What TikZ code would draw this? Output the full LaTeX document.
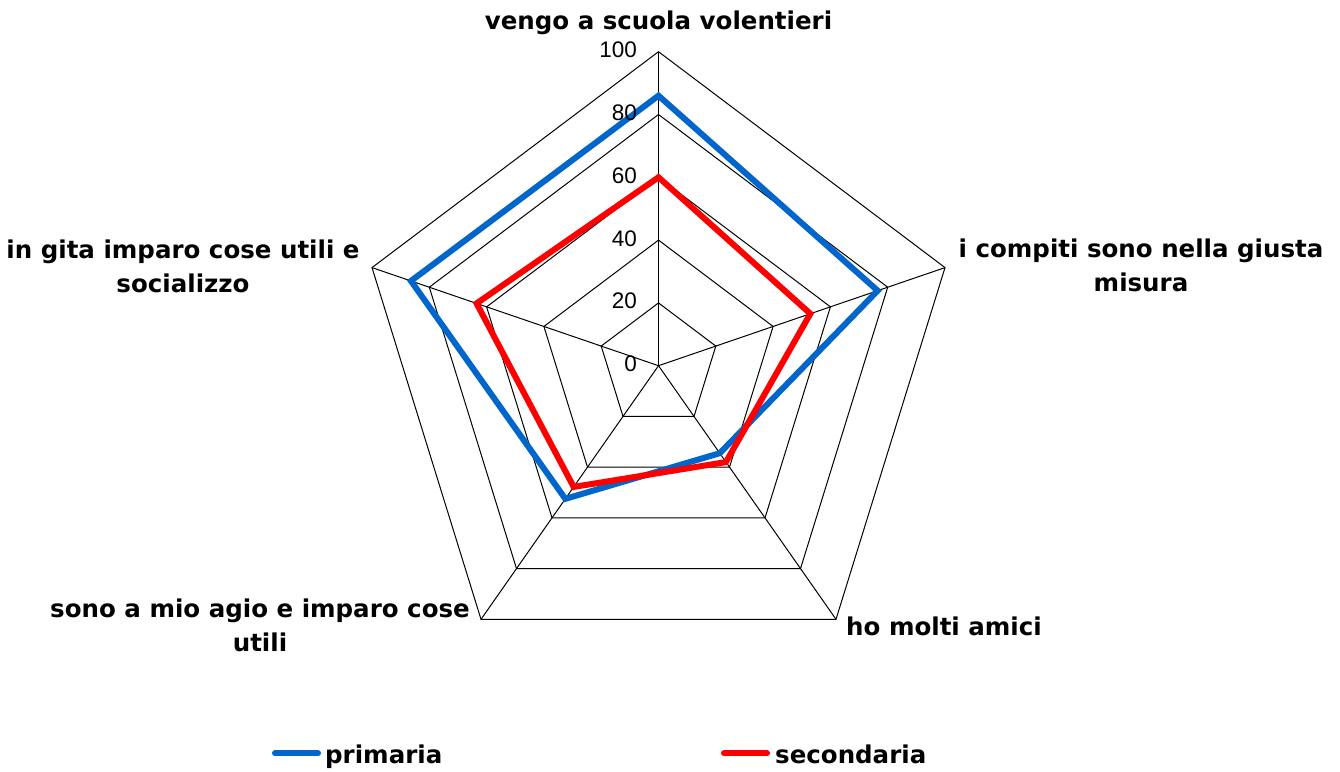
\documentclass[tikz,border=0pt]{standalone}
\usepackage{fontspec}
\setmainfont{DejaVu Sans}
\newfontfamily\tickfont{Liberation Sans}
\usetikzlibrary{calc}
\definecolor{prim}{RGB}{0,102,204}
\definecolor{seco}{RGB}{255,0,0}
\begin{document}
\begin{tikzpicture}[x=1pt,y=-1pt,
  gridline/.style={black, line width=1pt},
  series/.style={line width=6pt, line join=miter, miter limit=10},
  axislabel/.style={font=\fontsize{24.5}{34}\selectfont\bfseries, align=center, inner sep=0pt, anchor=base},
  ticklabel/.style={font=\tickfont\fontsize{22.5}{26}\selectfont, inner sep=0pt, anchor=east},
  legendline/.style={line width=6pt, line cap=round},
  legendtext/.style={font=\fontsize{24.5}{30}\selectfont\bfseries, inner sep=0pt, anchor=base west}]
\useasboundingbox[fill=white] (0,0) rectangle (1340,771);
% chart geometry
\coordinate (c) at (658.5,365.7);
\coordinate (v1) at (658.5,51.7);
\coordinate (v2) at (945,267.6);
\coordinate (v3) at (836,619.3);
\coordinate (v4) at (481,619.3);
\coordinate (v5) at (372,267.6);
% grid
\foreach \r in {0.2,0.4,0.6,0.8,1.0}
  \draw[gridline] ($(c)!\r!(v1)$) -- ($(c)!\r!(v2)$) -- ($(c)!\r!(v3)$) -- ($(c)!\r!(v4)$) -- ($(c)!\r!(v5)$) -- cycle;
\foreach \i in {1,...,5}
  \draw[gridline] (c) -- (v\i);
% series
\draw[series, prim] ($(c)!0.86!(v1)$) -- ($(c)!0.765!(v2)$) -- ($(c)!0.345!(v3)$) -- ($(c)!0.525!(v4)$) -- ($(c)!0.864!(v5)$) -- cycle;
\draw[series, seco] ($(c)!0.60!(v1)$) -- ($(c)!0.53!(v2)$) -- ($(c)!0.38!(v3)$) -- ($(c)!0.478!(v4)$) -- ($(c)!0.635!(v5)$) -- cycle;
% tick labels
\foreach \v in {0,20,40,60,80,100}
  \node[ticklabel] (t\v) at (637,{365.7-3.14*\v-1.7}) {\v};
% axis labels (base = baseline of last line)
\node[axislabel] (l1) at (658.5,29.3) {vengo a scuola volentieri};
\node[axislabel] (l2) at (1141,291.7) {i compiti sono nella giusta\\misura};
\node[axislabel] (l3) at (944,635) {ho molti amici};
\node[axislabel] (l4) at (260,651.3) {sono a mio agio e imparo cose\\utili};
\node[axislabel] (l5) at (183,292.3) {in gita imparo cose utili e\\socializzo};
% legend
\coordinate (pa) at (275,753.3);
\coordinate (pb) at (318,753.3);
\coordinate (sa) at (724,753.3);
\coordinate (sb) at (767,753.3);
\draw[legendline, prim] (pa) -- (pb);
\draw[legendline, seco] (sa) -- (sb);
\node[legendtext] (lp) at (325,763.3) {primaria};
\node[legendtext] (ls) at (775,763.3) {secondaria};
\end{tikzpicture}
\end{document}
